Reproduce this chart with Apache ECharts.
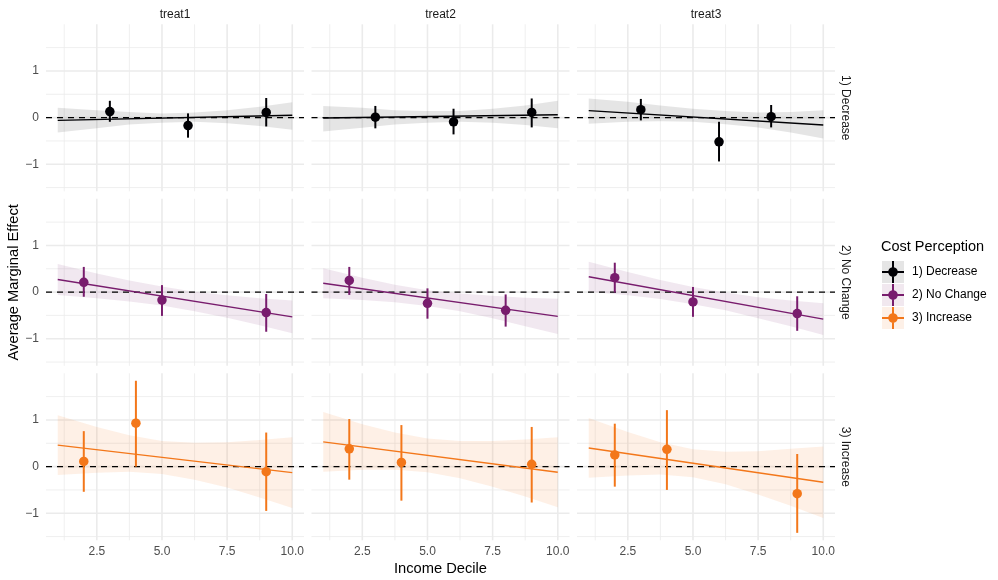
<!DOCTYPE html>
<html><head><meta charset="utf-8">
<script src="https://cdn.jsdelivr.net/npm/echarts@6/dist/echarts.min.js"></script>
<style>html,body{margin:0;padding:0;background:#fff}#c{width:998px;height:580px}</style>
</head><body><div id="c"></div>
<script>
// ---------------- data ----------------
const treatments = ['treat1', 'treat2', 'treat3'];
const perceptions = ['1) Decrease', '2) No Change', '3) Increase'];
const xTicks = [2.5, 5, 7.5, 10];
const xMinor = [1.25, 3.75, 6.25, 8.75];
const yTicks = [-1, 0, 1];
const yMinor = [-1.5, -0.5, 0.5, 1.5];
const fitX = [1, 10];
const bandX = [1, 2.5, 3.75, 5, 6.25, 7.5, 8.75, 10];
// panels in row-major order: rows = perceptions, columns = treatments
const pointX = [
  [3, 6, 9], [3, 6, 9], [3, 6, 8],
  [2, 5, 9], [2, 5, 8], [2, 5, 9],
  [2, 4, 9], [2, 4, 9], [2, 4, 9]
];
const pointY = [
  [0.13, -0.17, 0.11], [0.01, -0.09, 0.11], [0.17, -0.52, 0.02],
  [0.21, -0.17, -0.44], [0.25, -0.24, -0.39], [0.31, -0.21, -0.46],
  [0.11, 0.93, -0.11], [0.38, 0.09, 0.05], [0.25, 0.37, -0.58]
];
const ciLow = [
  [-0.09, -0.43, -0.19], [-0.23, -0.36, -0.21], [-0.06, -0.94, -0.21],
  [-0.10, -0.51, -0.85], [-0.06, -0.57, -0.74], [-0.01, -0.53, -0.83],
  [-0.54, 0.00, -0.95], [-0.28, -0.73, -0.77], [-0.43, -0.50, -1.42]
];
const ciHigh = [
  [0.36, 0.09, 0.42], [0.25, 0.19, 0.41], [0.40, -0.09, 0.27],
  [0.54, 0.15, -0.04], [0.54, 0.08, -0.05], [0.63, 0.11, -0.09],
  [0.76, 1.84, 0.73], [1.02, 0.89, 0.85], [0.92, 1.21, 0.27]
];
const fitY = [
  [-0.06, 0.05], [-0.01, 0.06], [0.15, -0.16],
  [0.27, -0.53], [0.19, -0.52], [0.33, -0.58],
  [0.46, -0.13], [0.53, -0.12], [0.40, -0.335]
];
const bandLow = [
  [-0.32, -0.23, -0.15, -0.11, -0.09, -0.12, -0.18, -0.26],
  [-0.30, -0.22, -0.15, -0.11, -0.09, -0.11, -0.16, -0.23],
  [-0.13, -0.09, -0.08, -0.09, -0.14, -0.21, -0.32, -0.45],
  [-0.06, -0.13, -0.20, -0.29, -0.41, -0.55, -0.71, -0.88],
  [-0.13, -0.17, -0.22, -0.30, -0.41, -0.56, -0.73, -0.90],
  [0.01, -0.07, -0.15, -0.26, -0.39, -0.56, -0.73, -0.92],
  [-0.18, -0.13, -0.11, -0.16, -0.28, -0.45, -0.66, -0.89],
  [-0.11, -0.07, -0.07, -0.12, -0.25, -0.43, -0.64, -0.87],
  [-0.24, -0.19, -0.17, -0.23, -0.38, -0.60, -0.84, -1.10]
];
const bandHigh = [
  [0.21, 0.16, 0.12, 0.09, 0.11, 0.16, 0.23, 0.33],
  [0.25, 0.21, 0.16, 0.14, 0.14, 0.19, 0.26, 0.36],
  [0.41, 0.34, 0.26, 0.19, 0.14, 0.11, 0.12, 0.16],
  [0.60, 0.40, 0.25, 0.12, 0.01, -0.07, -0.13, -0.18],
  [0.51, 0.31, 0.16, 0.04, -0.03, -0.08, -0.12, -0.14],
  [0.65, 0.43, 0.26, 0.11, -0.01, -0.11, -0.18, -0.24],
  [1.10, 0.85, 0.67, 0.55, 0.51, 0.52, 0.57, 0.63],
  [1.17, 0.91, 0.73, 0.60, 0.55, 0.55, 0.58, 0.63],
  [1.04, 0.74, 0.52, 0.37, 0.32, 0.33, 0.38, 0.43]
];

// ---------------- style ----------------
const colors = ['#000004', '#781C6D', '#F3771A'];
const bandFill = ['rgba(0,0,4,0.10)', 'rgba(120,28,109,0.10)', 'rgba(243,119,26,0.11)'];
const keyFill = ['#e5e5e5', '#f1e8ef', '#fdf0e7'];
const FONT = '"Liberation Sans", Arial, Helvetica, sans-serif';
const X_MIN = 0.55, X_MAX = 10.45, Y_MIN = -1.58, Y_MAX = 2.0;
const lefts = [46, 311.5, 577], tops = [24.3, 198.8, 373.3], PW = 258, PH = 167;
const crossIcon = 'path://M0,10H22V12H0Z M10,0H12V22H10Z M15.8,11A4.8,4.8 0 1,1 6.2,11A4.8,4.8 0 1,1 15.8,11Z';

const grids = [], xAxes = [], yAxes = [], series = [];
for (let r = 0; r < 3; r++) {
  for (let c = 0; c < 3; c++) {
    const i = r * 3 + c;
    grids.push({ left: lefts[c], top: tops[r], width: PW, height: PH, containLabel: false });
    const xa = {
      type: 'value', gridIndex: i, min: X_MIN, max: X_MAX,
      axisLine: { show: false }, splitLine: { show: false },
      axisTick: { show: false, customValues: xTicks },
      axisLabel: { show: r === 2, customValues: xTicks, formatter: v => v.toFixed(1),
        color: '#4d4d4d', fontSize: 12, fontFamily: FONT, margin: 5 }
    };
    if (r === 0) {
      Object.assign(xa, { position: 'top', name: treatments[c], nameLocation: 'middle', nameGap: 4,
        nameTextStyle: { color: '#1a1a1a', fontSize: 12, fontFamily: FONT } });
    }
    if (r === 2 && c === 1) {
      Object.assign(xa, { name: 'Income Decile', nameLocation: 'middle', nameGap: 21,
        nameTextStyle: { color: '#000', fontSize: 14.7, fontFamily: FONT } });
    }
    xAxes.push(xa);
    const ya = {
      type: 'value', gridIndex: i, min: Y_MIN, max: Y_MAX,
      axisLine: { show: false }, splitLine: { show: false },
      axisTick: { show: false, customValues: yTicks },
      axisLabel: { show: c === 0, customValues: yTicks,
        formatter: v => (v < 0 ? '\u2212' + Math.abs(v) : String(v)),
        color: '#4d4d4d', fontSize: 12, fontFamily: FONT, margin: 7 }
    };
    if (c === 2) {
      Object.assign(ya, { position: 'right', name: perceptions[r], nameLocation: 'middle', nameGap: 4,
        nameRotate: -90, nameTextStyle: { color: '#1a1a1a', fontSize: 12, fontFamily: FONT } });
    }
    if (c === 0 && r === 1) {
      Object.assign(ya, { name: 'Average Marginal Effect', nameLocation: 'middle', nameGap: 22,
        nameRotate: 90, nameTextStyle: { color: '#000', fontSize: 14.7, fontFamily: FONT } });
    }
    yAxes.push(ya);

    // grid lines
    const gridData = [];
    xMinor.forEach(v => gridData.push([0, v, 0]));
    xTicks.forEach(v => gridData.push([0, v, 1]));
    yMinor.forEach(v => gridData.push([1, v, 0]));
    yTicks.forEach(v => gridData.push([1, v, 1]));
    series.push({
      type: 'custom', name: 'grid' + i, xAxisIndex: i, yAxisIndex: i, z: 0, silent: true,
      data: gridData, encode: { x: -1, y: -1 },
      renderItem: (params, api) => {
        const cs = params.coordSys;
        const o = api.value(0), v = api.value(1), major = api.value(2);
        let shape;
        if (o === 0) {
          const p = api.coord([v, 0]);
          shape = { x1: p[0], y1: cs.y, x2: p[0], y2: cs.y + cs.height };
        } else {
          const p = api.coord([1, v]);
          shape = { x1: cs.x, y1: p[1], x2: cs.x + cs.width, y2: p[1] };
        }
        return { type: 'line', shape, style: { stroke: '#ebebeb', lineWidth: major ? 1.6 : 0.8 } };
      }
    });

    // ribbon
    series.push({
      type: 'custom', name: 'band' + i, xAxisIndex: i, yAxisIndex: i, z: 1, silent: true,
      data: bandX.map((x, k) => [x, bandLow[i][k], bandHigh[i][k]]),
      renderItem: (params, api) => {
        if (params.dataIndexInside !== 0) return null;
        const n = params.dataInsideLength;
        const up = [], lo = [];
        for (let k = 0; k < n; k++) {
          up.push(api.coord([api.value(0, k), api.value(2, k)]));
          lo.push(api.coord([api.value(0, k), api.value(1, k)]));
        }
        return { type: 'polygon', shape: { points: up.concat(lo.reverse()) },
          style: { fill: bandFill[r], stroke: null } };
      }
    });

    // zero reference line
    series.push({
      type: 'custom', name: 'zero' + i, xAxisIndex: i, yAxisIndex: i, z: 2, silent: true,
      data: [[1, 0]],
      renderItem: (params, api) => {
        const cs = params.coordSys;
        const p = api.coord([api.value(0), api.value(1)]);
        return { type: 'line', shape: { x1: cs.x, y1: p[1], x2: cs.x + cs.width, y2: p[1] },
          style: { stroke: '#000', lineWidth: 1.3, lineDash: [6, 5] } };
      }
    });

    // fitted line
    series.push({
      type: 'line', name: 'fit' + i, xAxisIndex: i, yAxisIndex: i, z: 3, silent: true,
      data: fitX.map((x, k) => [x, fitY[i][k]]), symbol: 'none',
      lineStyle: { color: colors[r], width: 1.4 }
    });

    // error bars
    series.push({
      type: 'custom', name: 'err' + i, xAxisIndex: i, yAxisIndex: i, z: 4, silent: true,
      data: pointX[i].map((x, k) => [x, ciLow[i][k], ciHigh[i][k]]),
      renderItem: (params, api) => {
        const a = api.coord([api.value(0), api.value(1)]);
        const b = api.coord([api.value(0), api.value(2)]);
        return { type: 'line', shape: { x1: a[0], y1: a[1], x2: b[0], y2: b[1] },
          style: { stroke: colors[r], lineWidth: 2 } };
      }
    });

    // points
    series.push({
      type: 'scatter', name: perceptions[r], xAxisIndex: i, yAxisIndex: i, z: 5,
      data: pointX[i].map((x, k) => [x, pointY[i][k]]),
      symbol: 'circle', symbolSize: 9.5, itemStyle: { color: colors[r], opacity: 1 }
    });
  }
}

const chart = echarts.init(document.getElementById('c'), null, { renderer: 'canvas' });
chart.setOption({
  animation: false,
  backgroundColor: '#ffffff',
  textStyle: { fontFamily: FONT },
  title: { text: 'Cost Perception', left: 876, top: 234, padding: 5,
    textStyle: { fontSize: 14.5, fontWeight: 'normal', color: '#000', fontFamily: FONT } },
  legend: [
    { orient: 'vertical', left: 877, top: 256, padding: 5, itemWidth: 22, itemHeight: 22, itemGap: 1, z: 3,
      selectedMode: false, formatter: () => '',
      data: perceptions.map((p, k) => ({ name: p, icon: 'rect', itemStyle: { color: keyFill[k] } })) },
    { orient: 'vertical', left: 877, top: 256, padding: 5, itemWidth: 22, itemHeight: 22, itemGap: 1, z: 4,
      selectedMode: false, icon: crossIcon,
      textStyle: { fontSize: 12, color: '#000', fontFamily: FONT, padding: [0, 0, 0, 3] },
      data: perceptions }
  ],
  grid: grids, xAxis: xAxes, yAxis: yAxes, series
});
</script></body></html>
